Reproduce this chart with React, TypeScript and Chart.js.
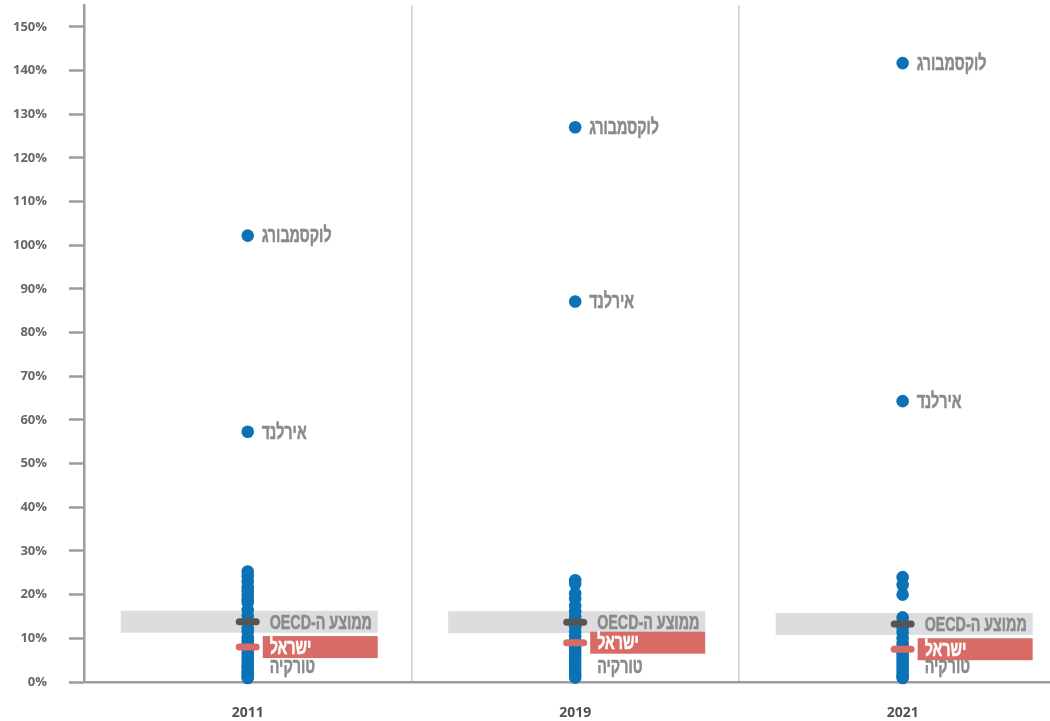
import React, { useEffect, useRef } from "react";
import { Chart, registerables } from "chart.js";

Chart.register(...registerables);

const years = ["2011", "2019", "2021"];
const yTickValues = [0, 10, 20, 30, 40, 50, 60, 70, 80, 90, 100, 110, 120, 130, 140, 150];

const dots2011 = [25.3, 24.2, 23.0, 21.7, 20.8, 19.8, 18.9, 18.2, 16.5, 15.2, 14.0, 12.3, 11.5, 10.2, 9.5, 8.7, 7.9, 7.2, 6.5, 5.8, 5.1, 4.5, 3.8, 3.2, 2.6, 2.0, 1.3, 0.9];
const dots2019 = [23.3, 22.5, 20.3, 19.0, 17.4, 16.2, 15.0, 14.0, 12.6, 11.5, 10.5, 9.5, 8.6, 7.8, 7.0, 6.3, 5.6, 4.9, 4.2, 3.5, 2.8, 2.1, 1.5, 1.0];
const dots2021 = [24.0, 22.2, 20.0, 14.8, 13.8, 12.5, 11.4, 10.0, 9.0, 8.2, 7.4, 6.6, 5.9, 5.2, 4.5, 3.8, 3.1, 2.5, 1.9, 1.3, 0.9];

const luxembourg = [102.2, 127.0, 141.7];
const ireland = [57.3, 87.1, 64.3];
const oecdAvg = [13.8, 13.7, 13.3];
const israel = [8.0, 9.0, 7.5];
const turkey = [0.9, 1.0, 0.9];

const labelLux = "לוקסמבורג";
const labelIreland = "אירלנד";
const labelOecd = "ממוצע ה-OECD";
const labelIsrael = "ישראל";
const labelTurkey = "טורקיה";

const BLUE = "#0b72b5";
const RED = "#d96b66";
const BAND = "#dcdddf";
const LABEL_GRAY = "#8a8a8c";
const HEB_FONT = "bold 21px 'Liberation Sans', 'DejaVu Sans', sans-serif";
const HEB_SCALE = 0.68;

function drawLabel(ctx: any, text: string, x: number, y: number, color: string) {
  ctx.save();
  ctx.translate(x, y);
  ctx.scale(HEB_SCALE, 1);
  ctx.font = HEB_FONT;
  ctx.direction = "rtl";
  ctx.textAlign = "left";
  ctx.textBaseline = "middle";
  ctx.fillStyle = color;
  ctx.strokeStyle = color;
  ctx.lineWidth = 0.6;
  ctx.fillText(text, 0, 0);
  ctx.strokeText(text, 0, 0);
  ctx.restore();
}

const overlay = {
  id: "overlay",
  beforeDatasetsDraw(chart: any) {
    const { ctx, scales } = chart;
    const x = scales.x;
    const y = scales.y;
    ctx.save();
    years.forEach((_, i) => {
      const cx = x.getPixelForValue(i);
      const oy = y.getPixelForValue(oecdAvg[i]);
      ctx.fillStyle = BAND;
      ctx.fillRect(cx - 127, oy - 11, 257, 22);
      const iy = y.getPixelForValue(israel[i]);
      ctx.fillStyle = RED;
      ctx.fillRect(cx + 15, iy - 11, 115, 22);
    });
    ctx.restore();
  },
  afterDatasetsDraw(chart: any) {
    const { ctx, scales, chartArea } = chart;
    const x = scales.x;
    const y = scales.y;
    ctx.save();
    ctx.lineCap = "round";
    ctx.lineWidth = 7;
    years.forEach((_, i) => {
      const cx = x.getPixelForValue(i);
      const oy = y.getPixelForValue(oecdAvg[i]);
      ctx.strokeStyle = "#555555";
      ctx.beginPath();
      ctx.moveTo(cx - 8.5, oy);
      ctx.lineTo(cx + 8.5, oy);
      ctx.stroke();
      const iy = y.getPixelForValue(israel[i]);
      ctx.strokeStyle = RED;
      ctx.beginPath();
      ctx.moveTo(cx - 8.5, iy);
      ctx.lineTo(cx + 8.5, iy);
      ctx.stroke();

      drawLabel(ctx, labelLux, cx + 14, y.getPixelForValue(luxembourg[i]) + 1, LABEL_GRAY);
      drawLabel(ctx, labelIreland, cx + 14, y.getPixelForValue(ireland[i]) + 1, LABEL_GRAY);
      drawLabel(ctx, labelOecd, cx + 22, oy + 1, LABEL_GRAY);
      const ty = Math.min(y.getPixelForValue(turkey[i]), chartArea.bottom - 16);
      drawLabel(ctx, labelTurkey, cx + 22, ty + 1, LABEL_GRAY);
      drawLabel(ctx, labelIsrael, cx + 22, iy + 1, "#ffffff");
    });
    ctx.restore();
  },
};

function buildPoints() {
  const pts: { x: number; y: number }[] = [];
  [dots2011, dots2019, dots2021].forEach((arr, i) => {
    arr.forEach((v) => pts.push({ x: i, y: v }));
    pts.push({ x: i, y: ireland[i] });
    pts.push({ x: i, y: luxembourg[i] });
  });
  return pts;
}

export default function App() {
  const ref = useRef<HTMLCanvasElement | null>(null);
  useEffect(() => {
    document.body.style.margin = "0";
    const chart = new Chart(ref.current as HTMLCanvasElement, {
      type: "scatter",
      data: {
        datasets: [
          {
            data: buildPoints(),
            backgroundColor: BLUE,
            borderWidth: 0,
            pointRadius: 6.3,
            pointHoverRadius: 6.3,
            clip: false,
          },
        ],
      },
      plugins: [overlay],
      options: {
        animation: false,
        responsive: false,
        events: [],
        layout: { autoPadding: false, padding: { top: 5, right: 0, left: 0, bottom: 0 } },
        plugins: { legend: { display: false }, tooltip: { enabled: false } },
        scales: {
          x: {
            type: "linear",
            min: -0.5,
            max: 2.45,
            afterBuildTicks(scale: any) {
              scale.ticks = [0, 0.5, 1, 1.5, 2].map((v) => ({ value: v }));
            },
            afterFit(scale: any) {
              scale.height = 39;
              scale.paddingLeft = 0;
              scale.paddingRight = 0;
              scale.paddingTop = 0;
              scale.paddingBottom = 0;
            },
            border: { color: "#9d9d9f", width: 2.5 },
            grid: {
              drawTicks: false,
              lineWidth: 1.5,
              color: (c: any) => (c.tick && c.tick.value % 1 !== 0 ? "#cfcfd0" : "rgba(0,0,0,0)"),
            },
            ticks: {
              padding: 23,
              color: "#505050",
              font: { family: "'Open Sans', sans-serif", size: 14, weight: "bold" },
              callback: (v: any) => (Number.isInteger(v) ? years[v] : ""),
            },
          },
          y: {
            type: "linear",
            min: 0,
            max: 155,
            afterBuildTicks(scale: any) {
              scale.ticks = yTickValues.map((v) => ({ value: v }));
            },
            afterFit(scale: any) {
              scale.width = 84;
              scale.paddingTop = 0;
              scale.paddingBottom = 0;
              scale.paddingLeft = 0;
              scale.paddingRight = 0;
            },
            border: { color: "#9d9d9f", width: 2.5 },
            grid: {
              drawOnChartArea: false,
              drawTicks: true,
              tickLength: 15,
              tickColor: "#9d9d9f",
              tickWidth: 2.5,
            },
            ticks: {
              padding: 22,
              color: "#666666",
              font: { family: "'Open Sans', sans-serif", size: 13, weight: "bold" },
              callback: (v: any) => v + "%",
            },
          },
        },
      },
    });
    return () => chart.destroy();
  }, []);
  return (
    <div style={{ position: "absolute", left: 0, top: 0, width: 1050, height: 721 }}>
      <canvas ref={ref} width={1050} height={721} />
    </div>
  );
}
